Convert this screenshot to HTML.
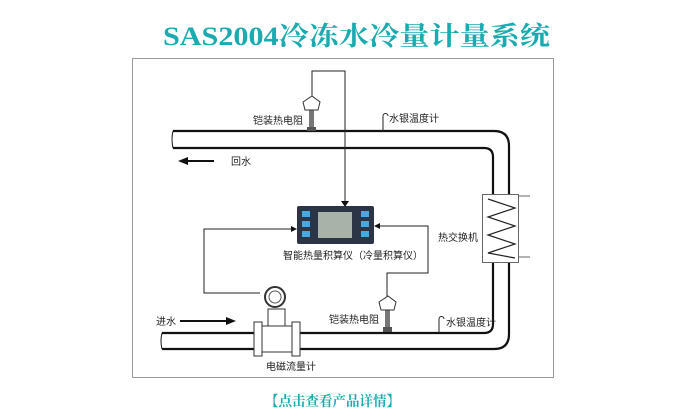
<!DOCTYPE html>
<html><head><meta charset="utf-8"><style>
html,body{margin:0;padding:0;background:#fff;}
svg{display:block;}
</style></head><body>
<svg width="684" height="417" viewBox="0 0 684 417" xmlns="http://www.w3.org/2000/svg" font-family="Liberation Sans, Noto Sans CJK SC, sans-serif">
<rect width="684" height="417" fill="#fff"/>
<text x="163" y="45" font-family="Liberation Serif, Noto Serif CJK SC, serif" font-weight="bold" font-size="26" fill="#1aabb0" textLength="387" lengthAdjust="spacingAndGlyphs">SAS2004冷冻水冷量计量系统</text>
<rect x="132.5" y="58.5" width="421" height="319" fill="none" stroke="#999" stroke-width="1"/>
<g fill="none" stroke="#111" stroke-width="2.2">
<!-- top pipe -->
<path d="M173 131 H494 Q509 131 509 146 V194"/>
<path d="M173 148 H484 Q493 148 493 157 V194"/>
<path d="M173 131 q-2 8 0 17" stroke-width="1"/>
<!-- bottom pipe -->
<path d="M162 333 H254 M300 333 H484 Q493 333 493 324 V263"/>
<path d="M162 349 H254 M300 349 H494 Q509 349 509 334 V263"/>
<path d="M162 333 q-2 8 0 16" stroke-width="1"/>
</g>
<!-- heat exchanger -->
<rect x="482.5" y="194.5" width="36" height="68" fill="#fff" stroke="#666" stroke-width="1"/>
<path d="M519 196 H530 M519 257 H530" stroke="#666" stroke-width="1"/>
<path d="M488 199 L515 208 L488 217 L515 226 L488 235 L515 244 L488 253 L515 258" fill="none" stroke="#222" stroke-width="1.2"/>
<!-- wires -->
<g fill="none" stroke="#222" stroke-width="1">
<path d="M312 100 V71 H345 V203"/>
<path d="M260 293 H204 V229 H293"/>
<path d="M387 298 V273 H428 V226 H378"/>
</g>
<path d="M341 201 L349 201 L345 207 Z" fill="#111"/>
<path d="M291 226 L297 229 L291 232 Z" fill="#111"/>
<path d="M380 223 L374 226 L380 229 Z" fill="#111"/>
<!-- display -->
<rect x="297" y="206" width="77" height="38" rx="2" fill="#2c3545"/>
<rect x="318" y="212" width="34" height="26" fill="#a8b2a8"/>
<rect x="302" y="211" width="8" height="6" fill="#4aa8e0"/>
<rect x="302" y="221" width="8" height="6" fill="#4aa8e0"/>
<rect x="302" y="231" width="8" height="6" fill="#4aa8e0"/>
<rect x="361" y="211" width="8" height="6" fill="#4aa8e0"/>
<rect x="361" y="221" width="8" height="6" fill="#4aa8e0"/>
<rect x="361" y="231" width="8" height="6" fill="#4aa8e0"/>
<!-- top sensor -->
<rect x="309" y="110" width="5" height="17" fill="#777"/>
<rect x="307" y="127" width="9" height="4" fill="#555"/>
<path d="M303 102 L312 96 L320 102 L318 110 L305 110 Z" fill="#fff" stroke="#333"/>
<!-- bottom sensor -->
<rect x="385" y="310" width="5" height="17" fill="#777"/>
<rect x="383" y="327" width="9" height="5" fill="#555"/>
<path d="M379 302 L388 296 L396 302 L394 310 L381 310 Z" fill="#fff" stroke="#333"/>
<!-- thermometers -->
<path d="M383 131 V116 a2.5 2.5 0 0 1 5 0" fill="none" stroke="#222" stroke-width="1"/>
<path d="M439 333 V319 a2.5 2.5 0 0 1 5 0" fill="none" stroke="#222" stroke-width="1"/>
<!-- flow meter -->
<rect x="254" y="322" width="8" height="34" fill="#fff" stroke="#333"/>
<rect x="292" y="322" width="8" height="34" fill="#fff" stroke="#333"/>
<rect x="262" y="326" width="30" height="26" fill="#fff" stroke="#333"/>
<rect x="268" y="309" width="17" height="17" fill="#fff" stroke="#333"/>
<circle cx="275" cy="297" r="10" fill="#fff" stroke="#333" stroke-width="2"/>
<circle cx="275" cy="297" r="6" fill="#fff" stroke="#555"/>
<!-- arrows -->
<path d="M186 161 H214" stroke="#111" stroke-width="2"/>
<path d="M178 161 L188 157 L188 165 Z" fill="#111"/>
<path d="M180 321 H228" stroke="#111" stroke-width="2"/>
<path d="M236 321 L226 317 L226 325 Z" fill="#111"/>
<g font-size="10" fill="#222">
<text x="253" y="124">铠装热电阻</text>
<text x="389" y="122">水银温度计</text>
<text x="231" y="165">回水</text>
<text x="438" y="241">热交换机</text>
<text x="283" y="259">智能热量积算仪（冷量积算仪）</text>
<text x="156" y="325">进水</text>
<text x="329" y="323">铠装热电阻</text>
<text x="446" y="326">水银温度计</text>
<text x="266" y="370">电磁流量计</text>
</g>
<text x="265" y="406" font-size="14" font-weight="bold" fill="#1aabb0" font-family="Liberation Serif, Noto Serif CJK SC, serif" textLength="135" lengthAdjust="spacingAndGlyphs">【点击查看产品详情】</text>
</svg>
</body></html>
